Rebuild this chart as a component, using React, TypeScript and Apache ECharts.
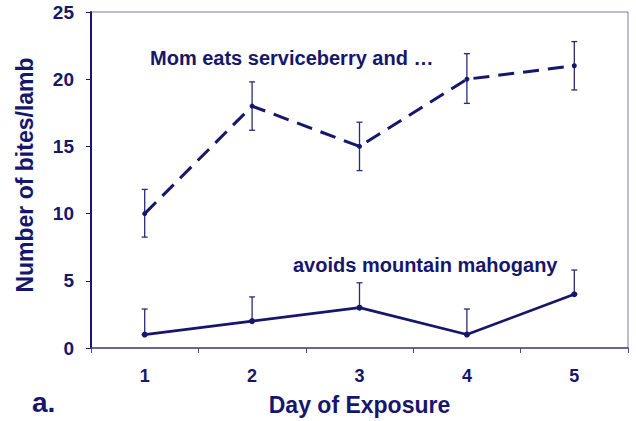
import React, { useEffect, useRef } from "react";
import * as echarts from "echarts";

const days = ["1", "2", "3", "4", "5"];
const serviceberry = [10, 18, 15, 20, 21];
const serviceberryLow = [8.25, 16.2, 13.2, 18.2, 19.2];
const serviceberryHigh = [11.8, 19.8, 16.8, 21.9, 22.8];
const mahogany = [1, 2, 3, 1, 4];
const mahoganyLow = [1, 2, 3, 1, 4];
const mahoganyHigh = [2.9, 3.8, 4.85, 2.9, 5.8];

const NAVY = "#16166c";
const FONT = "Liberation Sans, Arial, sans-serif";

function errorSeries(low: number[], high: number[], lowerCap: boolean) {
  return {
    type: "custom",
    silent: true,
    z: 1,
    data: days.map((_, i) => [i, low[i], high[i]]),
    renderItem: (params: any, api: any) => {
      const x = api.value(0);
      const lo = api.coord([x, api.value(1)]);
      const hi = api.coord([x, api.value(2)]);
      const cap = 3;
      const style = { stroke: "#2a2a7a", lineWidth: 1.3 };
      const children: any[] = [
        { type: "line", shape: { x1: lo[0], y1: lo[1], x2: hi[0], y2: hi[1] }, style },
        { type: "line", shape: { x1: hi[0] - cap, y1: hi[1], x2: hi[0] + cap, y2: hi[1] }, style },
      ];
      if (lowerCap) {
        children.push({ type: "line", shape: { x1: lo[0] - cap, y1: lo[1], x2: lo[0] + cap, y2: lo[1] }, style });
      }
      return { type: "group", children };
    },
  };
}

export default function App() {
  const ref = useRef<HTMLDivElement>(null);
  useEffect(() => {
    document.body.style.margin = "0";
    const chart = echarts.init(ref.current!, undefined, { renderer: "svg" });
    chart.setOption({
      animation: false,
      backgroundColor: "#ffffff",
      grid: {
        left: 91,
        right: 8,
        top: 12,
        bottom: 70,
        show: true,
        borderColor: "#7a7a9e",
        borderWidth: 1,
      },
      xAxis: {
        type: "category",
        data: days,
        boundaryGap: true,
        name: "Day of Exposure",
        nameLocation: "middle",
        nameGap: 45,
        nameTextStyle: { color: NAVY, fontSize: 23, fontWeight: "bold", fontFamily: FONT },
        axisLine: { lineStyle: { color: "#4a4a86", width: 1.5 } },
        axisTick: { show: true, length: 5, lineStyle: { color: "#4a4a86" } },
        axisLabel: { color: NAVY, fontSize: 18, fontWeight: "bold", fontFamily: FONT, margin: 19 },
        splitLine: { show: false },
      },
      yAxis: {
        type: "value",
        min: 0,
        max: 25,
        interval: 5,
        axisLine: { show: true, lineStyle: { color: NAVY, width: 2 } },
        axisTick: { show: true, length: 5, lineStyle: { color: NAVY } },
        axisLabel: { color: NAVY, fontSize: 19, fontWeight: "bold", fontFamily: FONT, margin: 17 },
        splitLine: { show: false },
      },
      series: [
        errorSeries(serviceberryLow, serviceberryHigh, true),
        errorSeries(mahoganyLow, mahoganyHigh, true),
        {
          type: "line",
          data: serviceberry,
          z: 3,
          symbol: "circle",
          symbolSize: 5,
          itemStyle: { color: NAVY },
          lineStyle: { color: NAVY, width: 3, type: [16, 9] },
        },
        {
          type: "line",
          data: mahogany,
          z: 3,
          symbol: "circle",
          symbolSize: 6,
          itemStyle: { color: NAVY },
          lineStyle: { color: NAVY, width: 2.7 },
        },
      ],
      graphic: [
        {
          type: "text",
          x: 25,
          y: 175,
          rotation: Math.PI / 2,
          style: {
            text: "Number of bites/lamb",
            fill: NAVY,
            font: `bold 23px ${FONT}`,
            align: "center",
            verticalAlign: "middle",
          },
        },
        {
          type: "text",
          left: 150,
          top: 48,
          style: { text: "Mom eats serviceberry and …", fill: NAVY, font: `bold 20px ${FONT}` },
        },
        {
          type: "text",
          left: 293,
          top: 255,
          style: { text: "avoids mountain mahogany", fill: NAVY, font: `bold 20px ${FONT}` },
        },
        {
          type: "text",
          left: 32,
          top: 388,
          style: { text: "a.", fill: NAVY, font: `bold 28px ${FONT}` },
        },
      ],
    });
    return () => chart.dispose();
  }, []);
  return <div ref={ref} style={{ width: 636, height: 421 }} />;
}
